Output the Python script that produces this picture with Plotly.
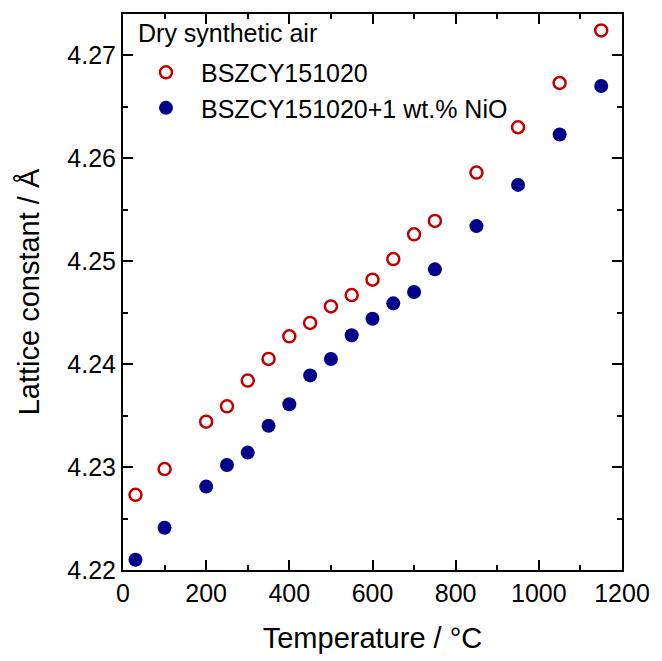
import plotly.graph_objects as go

# Temperature (°C)
temp_ref = [30, 100, 200, 250, 300, 350, 400, 450, 500, 550, 600, 650, 700, 750, 850, 950, 1050, 1150]
# BSZCY151020 lattice constant (Å)
a_ref = [4.2273, 4.2298, 4.2344, 4.2359, 4.2384, 4.2405, 4.2427, 4.2440, 4.2456, 4.2467,
         4.2482, 4.2502, 4.2526, 4.2539, 4.2586, 4.2630, 4.2673, 4.2724]
# BSZCY151020 + 1 wt.% NiO lattice constant (Å)
temp_nio = [30, 100, 200, 250, 300, 350, 400, 450, 500, 550, 600, 650, 700, 750, 850, 950, 1050, 1150]
a_nio = [4.2210, 4.2241, 4.2281, 4.2302, 4.2314, 4.2340, 4.2361, 4.2389, 4.2405, 4.2428,
         4.2444, 4.2459, 4.2470, 4.2492, 4.2534, 4.2574, 4.2623, 4.2670]

name_ref = "BSZCY151020"
name_nio = "BSZCY151020+1 wt.% NiO"
legend_title = "Dry synthetic air"
x_title = "Temperature / °C"
y_title = "Lattice constant / Å"
x_ticks = [0, 200, 400, 600, 800, 1000, 1200]
y_ticks = [4.22, 4.23, 4.24, 4.25, 4.26, 4.27]

RED = "#C00000"
BLUE = "#000088"
FONT = "Liberation Sans, Arial, sans-serif"

fig = go.Figure()
fig.add_trace(go.Scatter(
    x=temp_ref, y=a_ref, mode="markers", name=name_ref,
    marker=dict(symbol="circle-open", size=12, color=RED, line=dict(width=2.5, color=RED)),
))
fig.add_trace(go.Scatter(
    x=temp_nio, y=a_nio, mode="markers", name=name_nio,
    marker=dict(symbol="circle", size=14, color=BLUE, line=dict(width=0)),
))

axis_common = dict(
    showline=True, linecolor="black", linewidth=2, mirror="ticks",
    ticks="inside", ticklen=10, tickwidth=2, tickcolor="black",
    showgrid=False, zeroline=False,
    tickfont=dict(family=FONT, size=25, color="black"),
)

fig.update_xaxes(
    range=[0, 1200], tickvals=x_ticks, ticktext=[str(v) for v in x_ticks],
    minor=dict(ticks="inside", ticklen=5, tickwidth=2, tickcolor="black", dtick=100, tick0=0, showgrid=False),
    title=dict(text=x_title, font=dict(family=FONT, size=29, color="black"), standoff=22),
    **axis_common,
)
fig.update_yaxes(
    range=[4.22, 4.274], tickvals=y_ticks, ticktext=[f"{v:.2f}" for v in y_ticks],
    minor=dict(ticks="inside", ticklen=5, tickwidth=2, tickcolor="black", dtick=0.005, tick0=4.22, showgrid=False),
    title=dict(text=y_title, font=dict(family=FONT, size=29, color="black"), standoff=19),
    **axis_common,
)

fig.add_annotation(
    text=legend_title, xref="paper", yref="paper", x=0.027, y=0.966,
    xanchor="left", yanchor="middle", showarrow=False,
    font=dict(family=FONT, size=25, color="black"),
)

fig.update_layout(
    width=662, height=661,
    margin=dict(l=123, r=29, t=12, b=82),
    paper_bgcolor="white", plot_bgcolor="white",
    showlegend=True,
    legend=dict(
        x=0.016, y=0.936, xanchor="left", yanchor="top",
        bgcolor="rgba(0,0,0,0)", borderwidth=0,
        font=dict(family=FONT, size=25, color="black"),
        tracegroupgap=0, itemsizing="trace", itemwidth=60,
    ),
)

fig.write_html("out.html")
